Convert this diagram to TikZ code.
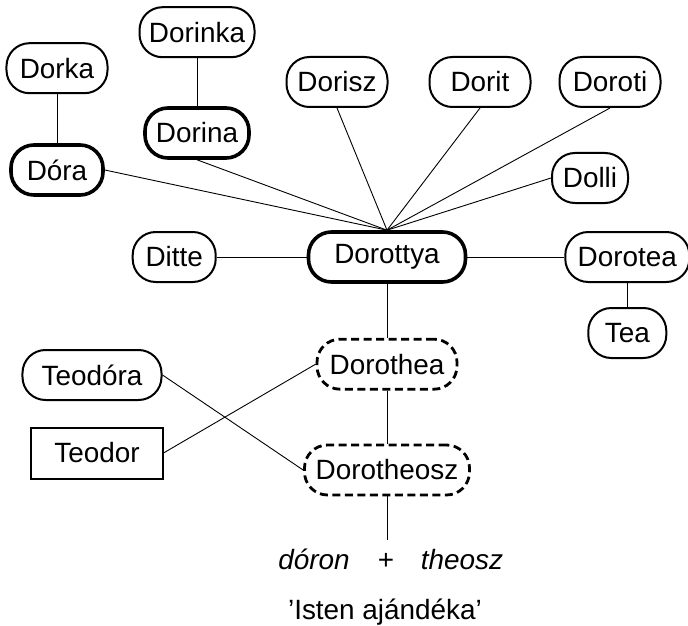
\documentclass[tikz,border=0pt]{standalone}
\usepackage{fontspec}
\setmainfont{Liberation Sans}
\usetikzlibrary{positioning}

\begin{document}
\begin{tikzpicture}[x=1bp,y=1bp,node distance=50bp,
namebox/.style={draw,rounded corners=23bp,line width=2bp,minimum height=50bp,inner sep=2bp,font=\fontsize{28}{34}\selectfont},
mainbox/.style={namebox,line width=3.6bp},
oldbox/.style={namebox,line width=2.8bp,dash pattern=on 8bp off 4.5bp},
plainbox/.style={draw,line width=2bp,minimum height=51bp,inner sep=2bp,font=\fontsize{28}{34}\selectfont},
link/.style={line width=0.9bp},
txt/.style={anchor=base,inner sep=0pt,font=\fontsize{28}{34}\selectfont}]
\useasboundingbox (0,0) rectangle (688,-626);
\node[mainbox,minimum width=157bp] (dorottya) at (387,-257) {Dorottya};
\node[namebox,minimum width=83bp,left=90bp of dorottya] (ditte) {Ditte};
\node[namebox,minimum width=124bp,right=97bp of dorottya] (dorotea) {Dorotea};
\node[namebox,minimum width=78bp,below=24bp of dorotea] (tea) {Tea};
\node[oldbox,minimum width=140bp,below=54bp of dorottya] (dorothea) {Dorothea};
\node[oldbox,minimum width=165bp,below=53bp of dorothea] (dorotheosz) {Dorotheosz};
\node[mainbox,minimum width=92bp] (dora) at (57,-170) {Dóra};
\node[namebox,minimum width=101bp,above=49bp of dora] (dorka) {Dorka};
\node[mainbox,minimum width=104bp] (dorina) at (197,-133) {Dorina};
\node[namebox,minimum width=115bp,above=48bp of dorina] (dorinka) {Dorinka};
\node[namebox,minimum width=101bp] (dorisz) at (337,-82) {Dorisz};
\node[namebox,minimum width=101bp] (dorit) at (480,-82) {Dorit};
\node[namebox,minimum width=101bp] (doroti) at (610,-82) {Doroti};
\node[namebox,minimum width=76bp] (dolli) at (590,-178) {Dolli};
\node[namebox,minimum width=139bp] (teodora) at (92,-375) {Teodóra};
\node[plainbox,minimum width=131bp] (teodor) at (97,-453) {Teodor};
\coordinate[below=44bp of dorotheosz] (root);
\node[txt] (doron) at (314,-569) {\itshape dóron};
\node[txt] (plus) at (386,-569) {+};
\node[txt] (theosz) at (462,-569) {\itshape theosz};
\node[txt] (gift) at (385,-619) {’Isten ajándéka’};
% connectors
\draw[link] (dorka) -- (dora);
\draw[link] (dorinka) -- (dorina);
\foreach \n/\a in {dora/east,dorina/south,dorisz/south,dorit/south,doroti/south,dolli/west}
  \draw[link] (\n.\a) -- (dorottya.north);
\draw[link] (ditte) -- (dorottya);
\draw[link] (dorottya) -- (dorotea);
\draw[link] (dorotea) -- (tea);
\draw[link] (dorottya) -- (dorothea);
\draw[link] (dorothea) -- (dorotheosz);
\draw[link] (teodora.east) -- (dorotheosz.west);
\draw[link] (teodor.east) -- (dorothea.west);
\draw[link] (dorotheosz) -- (root);
\end{tikzpicture}
\end{document}
